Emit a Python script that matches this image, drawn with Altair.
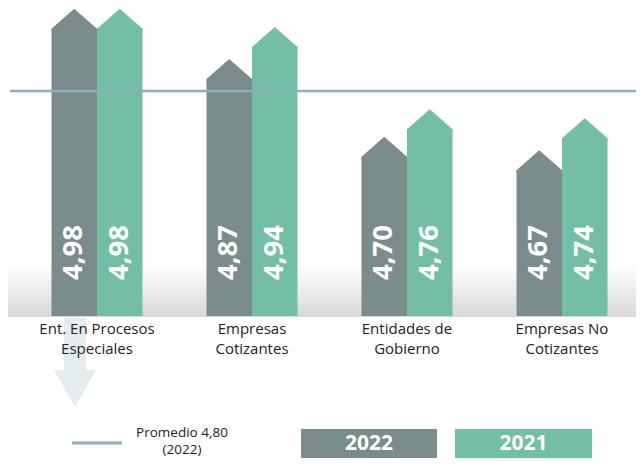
import altair as alt
import pandas as pd

# ---- data ----
categories = ["Ent. En Procesos Especiales", "Empresas Cotizantes",
              "Entidades de Gobierno", "Empresas No Cotizantes"]
label_line1 = ["Ent. En Procesos", "Empresas", "Entidades de", "Empresas No"]
label_line2 = ["Especiales", "Cotizantes", "Gobierno", "Cotizantes"]
years = ["2022", "2021"]
values_2022 = [4.98, 4.87, 4.70, 4.67]
values_2021 = [4.98, 4.94, 4.76, 4.74]
average_2022 = 4.80
average_line1 = "Promedio 4,80"
average_line2 = "(2022)"
y_domain = [4.3075, 4.9815]

colors = ["#7A8C8C", "#72BFA5"]
line_color = "#8BAFBC"
font = "Open Sans"

rows = []
for c, a, b in zip(categories, values_2022, values_2021):
    rows.append({"cat": c, "year": "2022", "value": a})
    rows.append({"cat": c, "year": "2021", "value": b})
df = pd.DataFrame(rows)
df["txt"] = df["value"].map(lambda v: f"{v:.2f}".replace(".", ","))
cat_df = pd.DataFrame({"cat": categories, "l1": label_line1, "l2": label_line2})

W, H = 628, 308
TOTAL_H = 450

xscale = alt.Scale(domain=categories, range=[43.5, 599.5],
                   paddingInner=0.413, paddingOuter=0, align=0.5)
yscale = alt.Scale(domain=y_domain, zero=False, nice=False, padding=0)
oscale = alt.Scale(domain=years, paddingInner=0, paddingOuter=0)
cscale = alt.Scale(domain=years, range=colors)

X = alt.X("cat:N", scale=xscale, axis=None)
XO = alt.XOffset("year:N", scale=oscale)
C = alt.Color("year:N", scale=cscale, legend=None)
Y = alt.Y("value:Q", scale=yscale, axis=None)

one = pd.DataFrame({"k": [0]})

floor = alt.Chart(one).mark_rect(
    fill={"gradient": "linear", "x1": 0, "y1": 0, "x2": 0, "y2": 1,
          "stops": [{"offset": 0, "color": "#ffffff"}, {"offset": 1, "color": "#d8d8d8"}]}
).encode(x=alt.value(0), x2=alt.value(W), y=alt.value(257), y2=alt.value(H + 1))

ghost = alt.Chart(one).mark_point(
    shape="M-0.52,-2.48L0.52,-2.48L0.52,0L1,0L0,1.76L-1,0L-0.52,0Z",
    size=1764, filled=True, opacity=1, strokeWidth=0, color="#E4ECEE"
).encode(x=alt.value(67), y=alt.value(362))

bars = alt.Chart(df).mark_bar(yOffset=20).encode(
    x=X, xOffset=XO, y=Y, y2=alt.Y2Datum(y_domain[0]), color=C
)

tips = alt.Chart(df).mark_point(
    shape="M-1,0.879L0,0L1,0.879L1,1L-1,1Z",
    size=2070, filled=True, opacity=1, strokeWidth=0
).encode(x=X, xOffset=XO, y=Y, color=C)

avg_rule = alt.Chart(pd.DataFrame({"avg": [average_2022]})).mark_rule(
    color=line_color, strokeWidth=2.5
).encode(y=alt.Y("avg:Q", scale=yscale, axis=None), x=alt.value(2), x2=alt.value(W))

value_text = alt.Chart(df).mark_text(
    angle=270, align="left", baseline="middle", fontSize=27.5, fontWeight="bold",
    color="white", font=font
).encode(x=X, xOffset=XO, y=alt.value(272), text="txt:N")

cat_style = dict(baseline="middle", fontSize=15, color="#222222", font=font)
cat_text1 = alt.Chart(cat_df).mark_text(**cat_style).encode(
    x=X, y=alt.value(321), text="l1:N")
cat_text2 = alt.Chart(cat_df).mark_text(**cat_style).encode(
    x=X, y=alt.value(341), text="l2:N")

# ---- legend ----
leg_line = alt.Chart(one).mark_rule(color=line_color, strokeWidth=3).encode(
    x=alt.value(64), x2=alt.value(114), y=alt.value(435)
)
avg_style = dict(baseline="middle", fontSize=13.5, color="#222222", font=font)
leg_avg_text1 = alt.Chart(pd.DataFrame({"t": [average_line1]})).mark_text(**avg_style).encode(
    x=alt.value(174), y=alt.value(425), text="t:N")
leg_avg_text2 = alt.Chart(pd.DataFrame({"t": [average_line2]})).mark_text(**avg_style).encode(
    x=alt.value(174), y=alt.value(442), text="t:N")

box_pos = [(293, 429), (447, 584)]
legend_layers = []
for yr, col, (x0, x1) in zip(years, colors, box_pos):
    ydf = pd.DataFrame({"t": [yr]})
    legend_layers.append(
        alt.Chart(ydf).mark_rect(color=col).encode(
            x=alt.value(x0), x2=alt.value(x1), y=alt.value(421), y2=alt.value(TOTAL_H))
    )
    legend_layers.append(
        alt.Chart(ydf).mark_text(color="white", fontSize=21, fontWeight="bold", font=font,
                                 baseline="middle", align="center").encode(
            x=alt.value((x0 + x1) / 2), y=alt.value(436), text="t:N")
    )

chart = alt.layer(
    floor, ghost, bars, tips, avg_rule, value_text, cat_text1, cat_text2,
    leg_line, leg_avg_text1, leg_avg_text2, *legend_layers
).properties(
    width=W, height=H,
    padding={"left": 0, "top": 0, "right": 0, "bottom": TOTAL_H - H},
    autosize=alt.AutoSizeParams(type="none"),
).configure_view(stroke=None)

chart.save("out.html", embed_options={"renderer": "svg", "actions": False})
